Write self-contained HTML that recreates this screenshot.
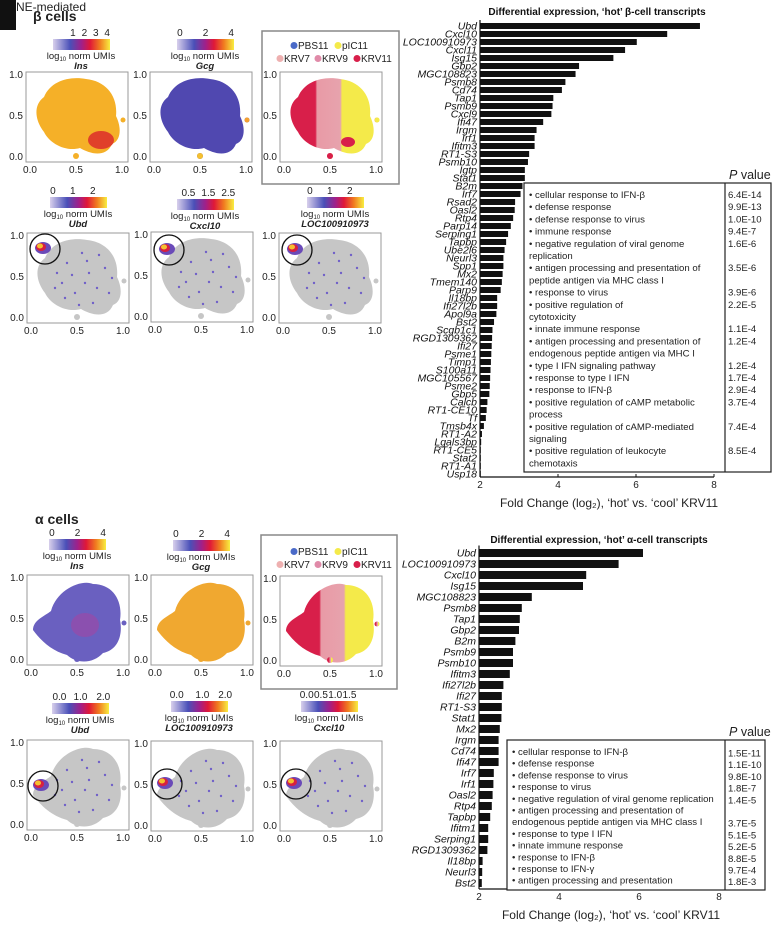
<!DOCTYPE html>
<html><head><meta charset="utf-8">
<style>
html,body{margin:0;padding:0;background:#fff;}
svg{display:block;font-family:"Liberation Sans",sans-serif;}
.gl{font-style:italic;font-size:10.5px;fill:#111;}
.tk{font-size:10px;fill:#222;}
.bx{font-size:9.6px;fill:#222;}
</style></head>
<body>
<svg id="fig" width="772" height="939" viewBox="0 0 772 939" xmlns="http://www.w3.org/2000/svg">
<defs>
<linearGradient id="cbar" x1="0" x2="1" y1="0" y2="0">
<stop offset="0" stop-color="#d8d0ec"/><stop offset="0.3" stop-color="#4a50b8"/><stop offset="0.5" stop-color="#a0208a"/><stop offset="0.65" stop-color="#e01838"/><stop offset="0.82" stop-color="#f07a20"/><stop offset="1" stop-color="#f8ee40"/>
</linearGradient>
<linearGradient id="condB" x1="0" x2="1"><stop offset="0.3" stop-color="#d81f4a"/><stop offset="0.32" stop-color="#e89aa6"/><stop offset="0.6" stop-color="#e7a3ad"/><stop offset="0.62" stop-color="#f4ea4a"/><stop offset="1" stop-color="#f4ea4a"/></linearGradient>
<linearGradient id="condA" x1="0" x2="1"><stop offset="0.38" stop-color="#d81f4a"/><stop offset="0.4" stop-color="#e89aa6"/><stop offset="0.66" stop-color="#e7a3ad"/><stop offset="0.68" stop-color="#f4ea4a"/><stop offset="1" stop-color="#f4ea4a"/></linearGradient>
</defs>
<rect x="0" y="0" width="16" height="30" fill="#111"/>
<text x="16" y="11" font-size="12" fill="#222">NE-mediated</text>
<text x="33" y="21" font-size="14" font-weight="bold" fill="#222">β cells</text>
<text x="35" y="524" font-size="14" font-weight="bold" fill="#222">α cells</text>
<g id="panels"></g>
<g id="chartTop"></g>
<g id="chartBot"></g>
</svg>
<script>
const betaGenes = ["Ubd","Cxcl10","LOC100910973","Cxcl11","Isg15","Gbp2","MGC108823","Psmb8","Cd74","Tap1","Psmb9","Cxcl9","Ifi47","Irgm","Irf1","Ifitm3","RT1-S3","Psmb10","Igtp","Stat1","B2m","Irf7","Rsad2","Oasl2","Rtp4","Parp14","Serping1","Tapbp","Ube2l6","Neurl3","Spp1","Mx2","Tmem140","Parp9","Il18bp","Ifi27l2b","Apol9a","Bst2","Scgb1c1","RGD1309362","Ifi27","Psme1","Timp1","S100a11","MGC105567","Psme2","Gbp5","Calcb","RT1-CE10","Tf","Tmsb4x","RT1-A2","Lgals3bp","RT1-CE5","Stat2","RT1-A1","Usp18"];
const betaValues = [7.64,6.8,6.02,5.72,5.42,4.54,4.45,4.19,4.1,3.88,3.86,3.83,3.62,3.45,3.4,3.4,3.26,3.23,3.15,3.15,3.09,3.04,2.9,2.89,2.85,2.79,2.72,2.67,2.63,2.6,2.6,2.58,2.56,2.53,2.44,2.44,2.42,2.36,2.32,2.31,2.3,2.29,2.28,2.27,2.26,2.25,2.24,2.19,2.17,2.15,2.1,2.05,2.03,2.02,2.01,2.01,2.01];
const betaTerms = [["cellular response to IFN-β"],["defense response"],["defense response to virus"],["immune response"],["negative regulation of viral genome","replication"],["antigen processing and presentation of","peptide antigen via MHC class I"],["response to virus"],["positive regulation of","cytotoxicity"],["innate immune response"],["antigen processing and presentation of","endogenous peptide antigen via MHC I"],["type I IFN signaling pathway"],["response to type I IFN"],["response to IFN-β"],["positive regulation of cAMP metabolic","process"],["positive regulation of cAMP-mediated","signaling"],["positive regulation of leukocyte","chemotaxis"]];
const betaP = ["6.4E-14","9.9E-13","1.0E-10","9.4E-7","1.6E-6","3.5E-6","3.9E-6","2.2E-5","1.1E-4","1.2E-4","1.2E-4","1.7E-4","2.9E-4","3.7E-4","7.4E-4","8.5E-4"];
const alphaGenes = ["Ubd","LOC100910973","Cxcl10","Isg15","MGC108823","Psmb8","Tap1","Gbp2","B2m","Psmb9","Psmb10","Ifitm3","Ifi27l2b","Ifi27","RT1-S3","Stat1","Mx2","Irgm","Cd74","Ifi47","Irf7","Irf1","Oasl2","Rtp4","Tapbp","Ifitm1","Serping1","RGD1309362","Il18bp","Neurl3","Bst2"];
const alphaValues = [6.1,5.49,4.68,4.6,3.32,3.07,3.02,3.0,2.91,2.85,2.85,2.77,2.61,2.57,2.57,2.56,2.52,2.49,2.49,2.49,2.37,2.36,2.34,2.32,2.28,2.23,2.23,2.21,2.09,2.08,2.07];
const alphaTerms = [["cellular response to IFN-β"],["defense response"],["defense response to virus"],["response to virus"],["negative regulation of viral genome replication"],["antigen processing and presentation of","endogenous peptide antigen via MHC class I"],["response to type I IFN"],["innate immune response"],["response to IFN-β"],["response to IFN-γ"],["antigen processing and presentation"]];
const alphaP = ["1.5E-11","1.1E-10","9.8E-10","1.8E-7","1.4E-5","3.7E-5","5.1E-5","5.2E-5","8.8E-5","9.7E-4","1.8E-3"];
const xTicks = [2,4,6,8];

const NS="http://www.w3.org/2000/svg";
function mk(parent, tag, attrs, text){
  const e=document.createElementNS(NS,tag);
  for(const k in attrs) e.setAttribute(k,attrs[k]);
  if(text!==undefined) e.textContent=text;
  parent.appendChild(e); return e;
}

function barChart(g, cfg, genes, values, terms, pvals){
  const xs = v => cfg.x0 + (v-2)*cfg.unit;
  const ys = i => cfg.y0 + i*cfg.step;
  const t=mk(g,'text',{x:(cfg.x0+cfg.x0+6*cfg.unit)/2,y:cfg.titleY,'text-anchor':'middle','font-size':'10','font-weight':'bold',fill:'#111'},cfg.title);
  
  
  genes.forEach((gn,i)=>{
    const r=mk(g,'rect',{x:cfg.x0,y:ys(i)-cfg.bh/2,width:Math.max(0.8,xs(values[i])-cfg.x0),height:cfg.bh,fill:'#111'});
    
    
    const l=mk(g,'text',{x:cfg.x0-3,y:ys(i)+3.6,'text-anchor':'end',class:'gl'},gn);
    
    
  });
  const yax=mk(g,'line',{x1:cfg.x0,x2:cfg.x0,y1:cfg.y0-cfg.step/2-2,y2:cfg.axisY,stroke:'#111','stroke-width':1.2});
  
  
  const xax=mk(g,'line',{x1:cfg.x0,x2:xs(8),y1:cfg.axisY,y2:cfg.axisY,stroke:'#111','stroke-width':1.2});
  
  
  xTicks.forEach(v=>{
    const tk=mk(g,'line',{x1:xs(v),x2:xs(v),y1:cfg.axisY-3,y2:cfg.axisY,stroke:'#111'});
    
    
    const tl=mk(g,'text',{x:xs(v),y:cfg.axisY+11,'text-anchor':'middle',class:'tk'},String(v));
    
    
  });
  const xt=mk(g,'text',{x:(cfg.x0+xs(8))/2+12,y:cfg.axisY+30,'text-anchor':'middle','font-size':'12',fill:'#222'},"Fold Change (log₂), ‘hot’ vs. ‘cool’ KRV11");
  
  
  const b=cfg.box;
  const br=mk(g,'rect',{x:b.x,y:b.y,width:b.w,height:b.h,fill:'#fff',stroke:'#222','stroke-width':1.2});
  
  
  const dv=mk(g,'line',{x1:b.div,x2:b.div,y1:b.y,y2:b.y+b.h,stroke:'#222','stroke-width':1.2});
  
  
  const ph=mk(g,'text',{x:b.div+4,y:b.y-4,'font-size':'12.5',fill:'#222'});
  
  
  mk(ph,'tspan',{'font-style':'italic'},'P');
  mk(ph,'tspan',{},' value');
  let line=0;
  terms.forEach((tm,i)=>{
    tm.forEach((s,j)=>{
      const tx=mk(g,'text',{x:b.x+5,y:b.ty+line*b.lh,class:'bx'},(j===0?'• ':'')+s);
      
      
      line++;
    });
    const pl = (cfg.pOnLast && tm.length>1) ? line-1 : line-tm.length;
    const pv=mk(g,'text',{x:b.div+3,y:b.ty+pl*b.lh+(cfg.pOnLast?1.5:0),class:'bx'},pvals[i]);
    
    
  });
}
barChart(document.getElementById('chartTop'),
  {x0:480,unit:39,y0:26,step:8,bh:6,axisY:477,titleY:15,title:"Differential expression, ‘hot’ β-cell transcripts",
   box:{x:524,y:183,w:247,h:289,div:725,ty:198,lh:12.2}},betaGenes,betaValues,betaTerms,betaP);
barChart(document.getElementById('chartBot'),
  {x0:479,unit:40,y0:553,step:11,bh:8,axisY:889,titleY:543,title:"Differential expression, ‘hot’ α-cell transcripts",pOnLast:true,
   box:{x:507,y:740,w:258,h:150,div:725,ty:755,lh:11.7}},alphaGenes,alphaValues,alphaTerms,alphaP);

const P=document.getElementById('panels');
const betaBlob="M18,25 C25,8 45,4 60,7 C80,9 92,24 90,44 C95,54 96,68 86,72 C80,86 64,82 54,76 C40,80 24,72 18,60 C10,50 6,34 18,25 Z";
const alphaBlob="M6,55 C6,45 18,41 24,36 C30,14 55,4 66,9 C86,9 96,26 93,45 C96,60 91,75 76,78 C66,89 50,89 40,80 C25,76 14,66 6,55 Z";
function colorbar(x,y,ticks,gene){
  const g=mk(P,'g',{});
  
  
  mk(g,'rect',{x:x,y:y,width:57,height:11,fill:'url(#cbar)'});
  ticks.forEach(t=>{mk(g,'text',{x:x+t[0]*57,y:y-3,'text-anchor':'middle',class:'tk'},t[1]);});
  const lt=mk(g,'text',{x:x+28,y:y+20,'text-anchor':'middle','font-size':'9.5',fill:'#222'},'log');
  mk(lt,'tspan',{'font-size':'6',dy:'2'},'10');
  mk(lt,'tspan',{dy:'-2'},' norm UMIs');
  mk(g,'text',{x:x+28,y:y+30,'text-anchor':'middle','font-size':'9.5','font-weight':'bold','font-style':'italic',fill:'#222'},gene);
}
function panel(x,y,blob,fill,extra){
  const g=mk(P,'g',{transform:'translate('+x+','+y+')'});
  
  
  mk(g,'rect',{x:0,y:0,width:102,height:90,fill:'#fff',stroke:'#999','stroke-width':1});
  mk(g,'path',{d:blob,fill:fill});
  mk(g,'circle',{cx:50,cy:84,r:3,fill:fill});
  mk(g,'circle',{cx:97,cy:48,r:2.5,fill:fill});
  if(extra) extra(g);
  [['1.0',3],['0.5',44],['0.0',85]].forEach(t=>mk(g,'text',{x:-3,y:t[1]+3,'text-anchor':'end',class:'tk'},t[0]));
  [['0.0',4],['0.5',50],['1.0',96]].forEach(t=>mk(g,'text',{x:t[1],y:101,'text-anchor':'middle',class:'tk'},t[0]));
}
function dots(g,color,n,seedArr){ seedArr.forEach(p=>mk(g,'circle',{cx:p[0],cy:p[1],r:1.2,fill:color})); }
const speck=[[40,30],[55,20],[62,40],[70,55],[48,60],[35,50],[78,35],[66,70],[30,40],[58,50],[82,60],[45,42],[72,22],[52,72],[38,65],[85,45],[60,28],[28,55]];
function hot(cx,cy,r){return g=>{
  mk(g,'ellipse',{cx:cx,cy:cy,rx:8,ry:6,fill:'#6a4ab8'});
  mk(g,'ellipse',{cx:cx-2,cy:cy-1,rx:5,ry:4,fill:'#d82040'});
  mk(g,'ellipse',{cx:cx-3,cy:cy-2,rx:3,ry:2.5,fill:'#f5c030'});
  dots(g,'#7060c8',0,speck);
  mk(g,'circle',{cx:cx+2,cy:cy+1,r:r,fill:'none',stroke:'#111','stroke-width':1.3});
};}
colorbar(53,39,[[0.35,'1'],[0.55,'2'],[0.75,'3'],[0.95,'4']],'Ins');
panel(26,72,betaBlob,'#f5b028',g=>{mk(g,'ellipse',{cx:75,cy:68,rx:13,ry:9,fill:'#e0402a'});});
colorbar(177,39,[[0.05,'0'],[0.5,'2'],[0.95,'4']],'Gcg');
panel(150,72,betaBlob,'#5048b0',g=>{mk(g,'circle',{cx:50,cy:84,r:3,fill:'#f5c030'});mk(g,'circle',{cx:97,cy:48,r:2.5,fill:'#f5a030'});});
const ob=mk(P,'rect',{x:262,y:31,width:137,height:153,fill:'none',stroke:'#888','stroke-width':1.5});


function legend(y){
  const g=mk(P,'g',{});
  
  
  [[294,y,'#4a6ac8','PBS11'],[338,y,'#f4ea4a','pIC11'],[280,y+13,'#eeb0b0','KRV7'],[318,y+13,'#e08aa8','KRV9'],[357,y+13,'#d81f4a','KRV11']].forEach(l=>{
    mk(g,'circle',{cx:l[0],cy:l[1]-3.5,r:3.5,fill:l[2]});
    mk(g,'text',{x:l[0]+4,y:l[1],'font-size':'10',fill:'#222'},l[3]);
  });
}
legend(49);
panel(280,72,betaBlob,'url(#condB)',g=>{mk(g,'circle',{cx:50,cy:84,r:3,fill:'#d81f4a'});mk(g,'circle',{cx:97,cy:48,r:2.5,fill:'#f4ea4a'});mk(g,'ellipse',{cx:68,cy:70,rx:7,ry:5,fill:'#d81f4a'});});
colorbar(50,197,[[0.05,'0'],[0.4,'1'],[0.75,'2']],'Ubd');
panel(27,233,betaBlob,'#c6c6c6',hot(16,15,15));
colorbar(177,199,[[0.2,'0.5'],[0.55,'1.5'],[0.9,'2.5']],'Cxcl10');
panel(151,232,betaBlob,'#c6c6c6',hot(16,17,15));
colorbar(307,197,[[0.05,'0'],[0.4,'1'],[0.75,'2']],'LOC100910973');
panel(279,233,betaBlob,'#c6c6c6',hot(16,16,15));
colorbar(49,539,[[0.05,'0'],[0.5,'2'],[0.95,'4']],'Ins');
panel(27,575,alphaBlob,'#6a60c0',g=>{mk(g,'ellipse',{cx:58,cy:50,rx:14,ry:12,fill:'#9a4aa8',opacity:0.7});});
colorbar(173,540,[[0.05,'0'],[0.5,'2'],[0.95,'4']],'Gcg');
panel(151,575,alphaBlob,'#f0a830');
const ob2=mk(P,'rect',{x:261,y:535,width:136,height:154,fill:'none',stroke:'#888','stroke-width':1.5});


legend(555);
panel(280,576,alphaBlob,'url(#condA)');
colorbar(52,703,[[0.13,'0.0'],[0.5,'1.0'],[0.9,'2.0']],'Ubd');
panel(27,740,alphaBlob,'#c6c6c6',hot(14,45,15));
colorbar(171,701,[[0.1,'0.0'],[0.55,'1.0'],[0.95,'2.0']],'LOC100910973');
panel(151,741,alphaBlob,'#c6c6c6',hot(14,42,15));
colorbar(301,701,[[0.1,'0.0'],[0.35,'0.5'],[0.6,'1.0'],[0.85,'1.5']],'Cxcl10');
panel(280,741,alphaBlob,'#c6c6c6',hot(14,42,15));
</script>
</body></html>
